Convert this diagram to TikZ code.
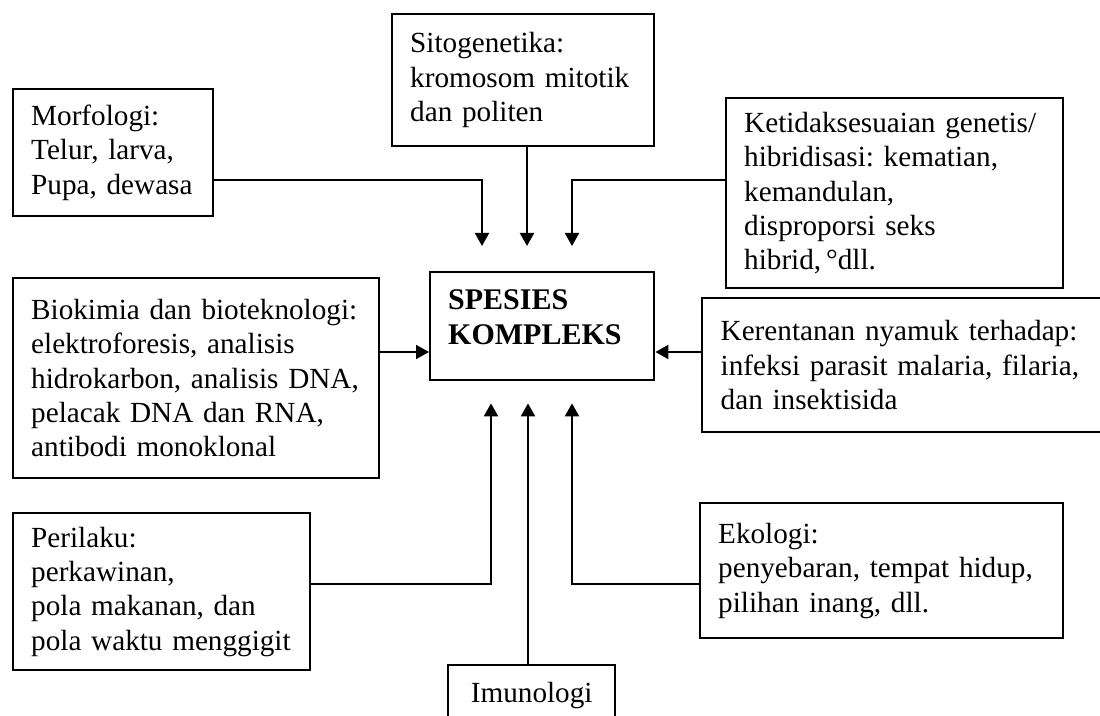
\documentclass[tikz,border=0pt]{standalone}
\usepackage{fontspec}
\setmainfont{Liberation Serif}
\usetikzlibrary{arrows.meta}
\frenchspacing
\tikzset{
  infobox/.style={draw, line width=1.2pt, anchor=north west, align=left,
    inner xsep=9pt, inner ysep=4pt, font=\fontsize{14.6}{17.2}\selectfont},
  feed/.style={line width=1pt, -{Triangle[length=6.5pt,width=7pt]}},
}
\begin{document}
\begin{tikzpicture}[x=0.5pt, y=-0.5pt]
  \path[use as bounding box, clip] (0,0) rectangle (1100,716);
  % central box
  \node[infobox, minimum width=112pt, minimum height=54pt, text width=94pt,
        text depth=27pt, font=\fontsize{15}{17.5}\selectfont\bfseries]
        (main) at (429,271) {SPESIES\\KOMPLEKS};
  % boxes above
  \node[infobox, minimum width=100pt, minimum height=63.5pt, text width=82pt]
        (morf) at (12,88) {Morfologi:\\Telur, larva,\\Pupa, dewasa};
  \node[infobox, minimum width=131pt, minimum height=66pt, text width=113pt]
        (sito) at (391,13) {Sitogenetika:\\kromosom mitotik\\dan politen};
  \node[infobox, minimum width=168.5pt, minimum height=95pt, text width=150.5pt]
        (ketid) at (725,97) {Ketidaksesuaian genetis/\\hibridisasi: kematian,\\kemandulan,\\disproporsi seks\\hibrid,\,°dll.};
  % boxes at the sides
  \node[infobox, minimum width=183pt, minimum height=100pt, text width=165pt]
        (bio) at (12,277) {Biokimia dan bioteknologi:\\elektroforesis, analisis\\hidrokarbon, analisis DNA,\\pelacak DNA dan RNA,\\antibodi monoklonal};
  \node[infobox, minimum width=210.5pt, minimum height=67pt, text width=192pt]
        (keren) at (701,297) {Kerentanan nyamuk terhadap:\\infeksi parasit malaria, filaria,\\dan insektisida};
  % boxes below
  \node[infobox, minimum width=148.5pt, minimum height=78.5pt, text width=130.5pt]
        (peri) at (12,512) {Perilaku:\\perkawinan,\\pola makanan, dan\\pola waktu menggigit};
  \node[infobox, minimum width=181.5pt, minimum height=67.5pt, text width=163.5pt]
        (eko) at (699,502) {Ekologi:\\penyebaran, tempat hidup,\\pilihan inang, dll.};
  \node[infobox, align=center, minimum width=83.5pt, minimum height=30pt, text width=65.5pt]
        (imun) at (447,664) {Imunologi};
  % arrows into the central box
  \draw[feed, shorten >=12.5pt] (morf.east |- 0,180) -| (main.north -| 482,0);
  \draw[feed, shorten >=12.5pt] (sito.south -| 527,0) -- (main.north -| 527,0);
  \draw[feed, shorten >=12.5pt] (ketid.west |- 0,180) -| (main.north -| 572,0);
  \draw[feed] (bio.east |- 0,352) -- (main.west |- 0,352);
  \draw[feed] (keren.west |- 0,352) -- (main.east |- 0,352);
  \draw[feed, shorten >=11pt] (peri.east |- 0,584) -| (main.south -| 491,0);
  \draw[feed, shorten >=11pt] (imun.north -| 528,0) -- (main.south -| 528,0);
  \draw[feed, shorten >=11pt] (eko.west |- 0,584) -| (main.south -| 572,0);
\end{tikzpicture}
\end{document}
